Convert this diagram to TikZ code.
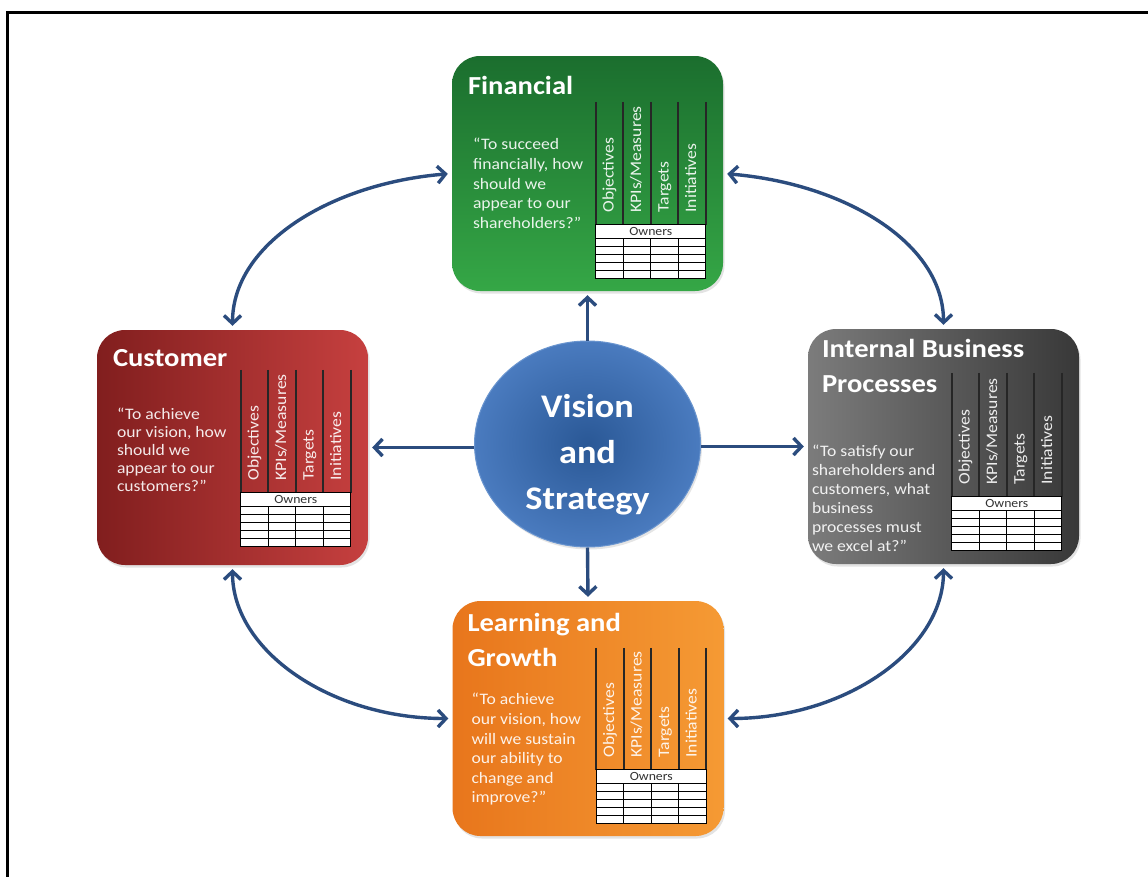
\documentclass[tikz,border=0pt]{standalone}
\usepackage{fontspec}
\setmainfont{Carlito}[FakeStretch=1.1]
\usetikzlibrary{arrows.meta,shapes.geometric,shadows}
\definecolor{arrowblue}{HTML}{2B4C7E}
\definecolor{finA}{HTML}{1B6E2E}
\definecolor{finB}{HTML}{35A746}
\definecolor{custA}{HTML}{811E1E}
\definecolor{custB}{HTML}{C6403F}
\definecolor{intA}{HTML}{7C7C7C}
\definecolor{intB}{HTML}{383838}
\definecolor{lrnA}{HTML}{E8761C}
\definecolor{lrnB}{HTML}{F59A34}
\definecolor{visA}{HTML}{2A5896}
\definecolor{visB}{HTML}{4A7BBF}
\definecolor{visD}{HTML}{6A95CF}
\newcommand\bsclines[1]{\begin{tabular}[t]{@{}l@{}}#1\end{tabular}}
\newcommand\bsctable[3]{%
  \begin{scope}[shift={(#1.north west)}]
    \foreach \xx in {144,171.5,199,226.5,254}{\draw[vline] (\xx,#2) -- (\xx,#3);}
    \draw[cell] (144,#3) rectangle (254,#3+14);
    \draw[cell] (144,#3+14) rectangle (254,#3+54);
    \foreach \yy in {22,30,38,46}{\draw[line width=1pt] (144,#3+\yy) -- (254,#3+\yy);}
    \foreach \xx in {171.5,199,226.5}{\draw[line width=1pt] (\xx,#3+14) -- (\xx,#3+54);}
    \node[owntxt] (#1-own) at (199,#3+7) {Owners};
    \node[lbl] (#1-l1) at (157.75,#3-12) {Objectives};
    \node[lbl] (#1-l2) at (185.25,#3-12) {KPIs/Measures};
    \node[lbl] (#1-l3) at (212.75,#3-12) {Targets};
    \node[lbl] (#1-l4) at (240.25,#3-12) {Initiatives};
  \end{scope}}
\begin{document}
\begin{tikzpicture}[x=1pt,y=-1pt,
  box/.style={rectangle, rounded corners=28pt, minimum width=271pt, minimum height=235pt, inner sep=0pt,
    drop shadow={opacity=0.22, shadow xshift=1.5pt, shadow yshift=-2.5pt}},
  ttl/.style={anchor=base west, inner sep=0pt, text=white, font=\fontsize{26}{35}\selectfont\bfseries},
  quote/.style={anchor=base west, inner sep=0pt, text=white, text opacity=0.9, font=\fontsize{16}{19.6}\selectfont},
  lbl/.style={rotate=90, anchor=west, inner sep=0pt, text=white, text opacity=0.9,
    font=\fontsize{16}{19}\selectfont, text height=11pt, text depth=3pt},
  owntxt/.style={inner sep=0pt, text=black!80, font=\fontsize{12.5}{14}\selectfont},
  vline/.style={draw=black!85, line width=2pt},
  cell/.style={draw=black, line width=1pt, fill=white},
  arr/.style={draw=arrowblue, line width=3.4pt, -{Straight Barb[length=8pt,width=17pt]}, shorten >=4pt},
  barr/.style={draw=arrowblue, line width=3.4pt,
    {Straight Barb[length=8pt,width=17pt]}-{Straight Barb[length=8pt,width=17pt]},
    shorten >=4pt, shorten <=4pt},
]
\useasboundingbox (0,0) rectangle (1148,876);
\fill[white] (0,0) rectangle (1148,876);
\draw[line width=3pt] (7.5,880) -- (7.5,12.5) -- (1152,12.5);

% boxes
\node[box, top color=finA, bottom color=finB] (fin) at (587.5,173.5) {};
\node[box, left color=custA, right color=custB] (cust) at (232.5,447.5) {};
\node[box, left color=intA, right color=intB] (int) at (943.5,446.5) {};
\node[box, left color=lrnA, right color=lrnB] (learn) at (588,718.5) {};

% centre
\node[ellipse, minimum width=226pt, minimum height=206pt, inner sep=0pt,
  inner color=visA, outer color=visB, draw=visD, line width=1pt,
  drop shadow={opacity=0.2, shadow xshift=1.5pt, shadow yshift=-2.5pt}] (vs) at (587.5,444) {};
\node[inner sep=0pt, text=white, align=center, font=\fontsize{33}{46}\selectfont\bfseries] (vst) at (587.5,455) {Vision\\and\\Strategy};

% connectors
\draw[arr] (vs.north) -- (fin.south);
\draw[arr] (vs.south) -- (learn.north);
\draw[arr] (vs.west |- cust.east) -- (cust.east);
\draw[arr] (vs.east |- int.west) -- (int.west);
\draw[barr] (cust.north) .. controls +(0,-86) and +(-121,10) .. (fin.west);
\draw[barr] (int.north) .. controls +(0,-86) and +(121,10) .. (fin.east);
\draw[barr] (cust.south) .. controls +(0,86) and +(-121,0) .. (learn.west);
\draw[barr] (int.south) .. controls +(0,86) and +(121,0) .. (learn.east);

% financial
\begin{scope}[shift={(fin.north west)}]
  \node[ttl] (fin-t) at (16,39) {Financial};
  \node[quote] (fin-q) at (21,94) {\bsclines{“To succeed\\financially, how\\should we\\appear to our\\shareholders?”}};
\end{scope}
\bsctable{fin}{46}{169}

% customer
\begin{scope}[shift={(cust.north west)}]
  \node[ttl] (cust-t) at (16,37) {Customer};
  \node[quote, font=\fontsize{16}{17.8}\selectfont] (cust-q) at (20,90) {\bsclines{“To achieve\\our vision, how\\should we\\appear to our\\customers?”}};
\end{scope}
\bsctable{cust}{40}{163}

% internal
\begin{scope}[shift={(int.north west)}]
  \node[ttl] (int-t) at (14,29) {\bsclines{Internal Business\\Processes}};
  \node[quote, font=\fontsize{16}{19}\selectfont] (int-q) at (4,128) {\bsclines{“To satisfy our\\shareholders and\\customers, what\\business\\processes must\\we excel at?”}};
\end{scope}
\bsctable{int}{44}{168}

% learning
\begin{scope}[shift={(learn.north west)}]
  \node[ttl] (learn-t) at (15,31) {\bsclines{Learning and\\Growth}};
  \node[quote] (learn-q) at (19,104) {\bsclines{“To achieve\\our vision, how\\will we sustain\\our ability to\\change and\\improve?”}};
\end{scope}
\bsctable{learn}{47}{169}
\end{tikzpicture}
\end{document}
